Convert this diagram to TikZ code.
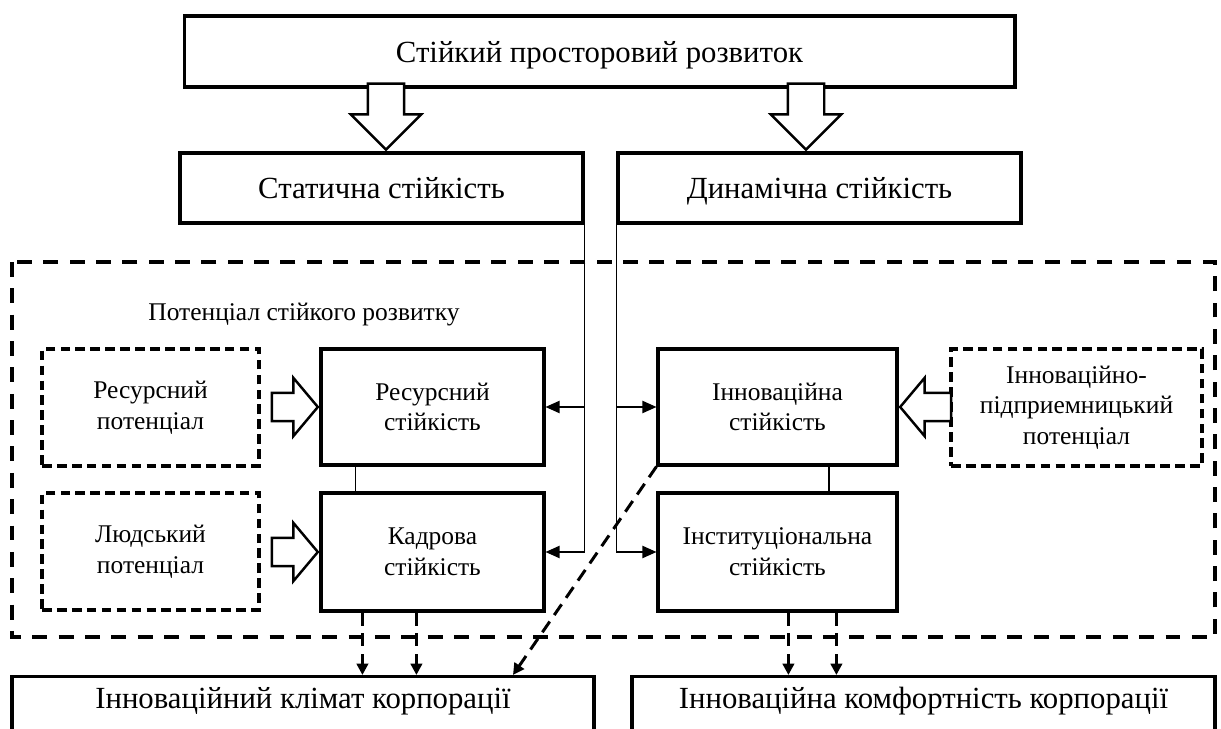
\documentclass[tikz,border=0pt]{standalone}
\usepackage{fontspec}
\setmainfont{Liberation Serif}
\usetikzlibrary{shapes.arrows,arrows.meta}

\begin{document}
\begin{tikzpicture}[x=0.02cm,y=-0.02cm,
  box/.style={draw,line width=1.8pt,inner sep=0pt,align=center},
  big/.style={font=\fontsize{17.5}{21}\selectfont,text height=14.5pt,text depth=2pt},
  small/.style={font=\fontsize{14.5}{17.5}\selectfont},
  potbox/.style={draw,line width=2pt,dash pattern=on 5.5pt off 3pt,inner sep=0pt,align=center,small},
  outer/.style={line width=1.9pt,dash pattern=on 8.5pt off 6.5pt},
  blockv/.style={single arrow,draw,fill=white,line width=1.4pt,inner xsep=0pt,inner ysep=0.34cm,minimum height=1.32cm,single arrow head extend=0.34cm,single arrow tip angle=90,rotate=-90},
  blockh/.style={single arrow,draw,fill=white,line width=1.4pt,inner xsep=0pt,inner ysep=0.26cm,minimum height=0.92cm,single arrow head extend=0.3cm,single arrow tip angle=100},
  conn/.style={line width=0.75pt,-{Triangle[length=8pt,width=7pt]}},
  link/.style={line width=0.75pt},
  dasharrow/.style={line width=1.7pt,dash pattern=on 7.4pt off 4.5pt,-{Triangle[length=6.5pt,width=6.5pt]}}]
\useasboundingbox (0,0) rectangle (1221,729);
\clip (0,0) rectangle (1221,729);

\node[box,big,minimum width=16.62cm,minimum height=1.42cm] (top) at (599.5,51.5) {Стійкий просторовий розвиток};
\node[box,big,minimum width=8.06cm,minimum height=1.4cm] (stat) at (381.5,188) {Статична стійкість};
\node[box,big,minimum width=8.06cm,minimum height=1.4cm] (dyn) at (819.5,188) {Динамічна стійкість};

\node[blockv,anchor=tip] (a1) at ([xshift=0.09cm]stat.north) {};
\node[blockv,anchor=tip] (a2) at ([xshift=-0.27cm]dyn.north) {};

\draw[outer] (12,262) rectangle (1215,637);
\node[small] (ptitle) at (304,315) {Потенціал стійкого розвитку};

\node[box,small,minimum width=4.46cm,minimum height=2.32cm] (res) at (432.5,407) {Ресурсний\\стійкість};
\node[box,small,minimum width=4.46cm,minimum height=2.36cm] (kadr) at (432.5,552) {Кадрова\\стійкість};
\node[box,small,minimum width=4.78cm,minimum height=2.32cm] (inn) at (777.5,407) {Інноваційна\\стійкість};
\node[box,small,minimum width=4.78cm,minimum height=2.36cm] (inst) at (777.5,552) {Інституціональна\\стійкість};

\node[potbox,minimum width=4.34cm,minimum height=2.34cm] (rpot) at (150.5,407.5) {Ресурсний\\потенціал};
\node[potbox,minimum width=4.34cm,minimum height=2.34cm] (lpot) at (150.5,551.5) {Людський\\потенціал};
\node[potbox,minimum width=5.02cm,minimum height=2.34cm] (ipot) at (1076.5,407.5) {Інноваційно-\\підприемницький\\потенціал};

\node[blockh,anchor=tip] (a3) at (res.west) {};
\node[blockh,anchor=tip] (a4) at (kadr.west) {};
\node[blockh,anchor=tip,rotate=180,minimum height=1.02cm] (a5) at (inn.east) {};

\draw[link] ([xshift=0.72cm]res.south west) -- ([xshift=0.72cm]kadr.north west);
\draw[link] ([xshift=1.03cm]inn.south) -- ([xshift=1.03cm]inst.north);

\draw[conn] (stat.south east) |- (kadr.east);
\draw[conn] (stat.south east |- res.east) -- (res.east);
\draw[conn] (dyn.south west) |- (inst.west);
\draw[conn] (dyn.south west |- inn.west) -- (inn.west);

\node[box,font=\fontsize{17.5}{21}\selectfont,minimum width=11.64cm,text height=0.64cm,text depth=0.76cm,anchor=north] (clim) at (303,675) {Інноваційний клімат корпорації};
\node[box,font=\fontsize{17.5}{21}\selectfont,minimum width=11.66cm,text height=0.64cm,text depth=0.76cm,anchor=north] (comf) at (923.5,675) {Інноваційна комфортність корпорації};

\draw[dasharrow] ([xshift=0.86cm]kadr.south west) -- ([xshift=0.86cm]kadr.south west |- clim.north);
\draw[dasharrow] ([xshift=1.94cm]kadr.south west) -- ([xshift=1.94cm]kadr.south west |- clim.north);
\draw[dasharrow] ([xshift=2.64cm]inst.south west) -- ([xshift=2.64cm]inst.south west |- comf.north);
\draw[dasharrow] ([xshift=3.6cm]inst.south west) -- ([xshift=3.6cm]inst.south west |- comf.north);
\draw[dasharrow] (inn.south west) -- ([xshift=4.2cm]clim.north);

\end{tikzpicture}
\end{document}
